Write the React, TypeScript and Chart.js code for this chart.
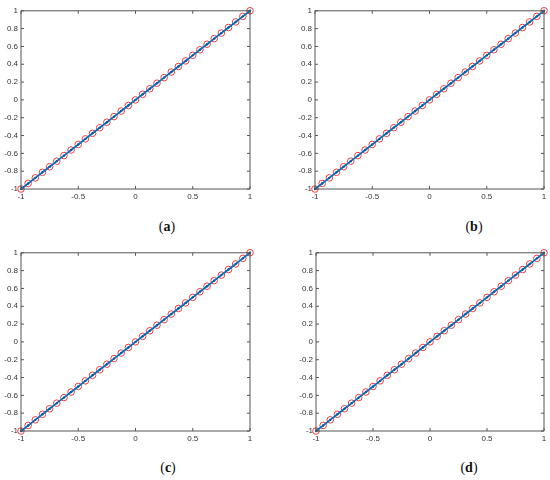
import React, { useEffect, useRef } from "react";
import { Chart, registerables } from "chart.js";

Chart.register(...registerables);

// ---- data ----
const xValues = [
  -1, -0.9375, -0.875, -0.8125, -0.75, -0.6875, -0.625, -0.5625, -0.5, -0.4375, -0.375,
  -0.3125, -0.25, -0.1875, -0.125, -0.0625, 0, 0.0625, 0.125, 0.1875, 0.25, 0.3125, 0.375,
  0.4375, 0.5, 0.5625, 0.625, 0.6875, 0.75, 0.8125, 0.875, 0.9375, 1,
];
const yValues = [
  -1, -0.9375, -0.875, -0.8125, -0.75, -0.6875, -0.625, -0.5625, -0.5, -0.4375, -0.375,
  -0.3125, -0.25, -0.1875, -0.125, -0.0625, 0, 0.0625, 0.125, 0.1875, 0.25, 0.3125, 0.375,
  0.4375, 0.5, 0.5625, 0.625, 0.6875, 0.75, 0.8125, 0.875, 0.9375, 1,
];
const xTicks = [-1, -0.5, 0, 0.5, 1];
const xTickLabels = ["-1", "-0.5", "0", "0.5", "1"];
const yTicks = [-1, -0.8, -0.6, -0.4, -0.2, 0, 0.2, 0.4, 0.6, 0.8, 1];
const yTickLabels = ["-1", "-0.8", "-0.6", "-0.4", "-0.2", "0", "0.2", "0.4", "0.6", "0.8", "1"];
const panelLabels = ["a", "b", "c", "d"];

// ---- layout (positions of plot areas in page px) ----
const panels = [
  { left: 20.5, right: 249, top: 9, bottom: 189, capX: 167, capY: 227 },
  { left: 315, right: 544, top: 9, bottom: 189, capX: 474, capY: 227 },
  { left: 20.5, right: 249, top: 251, bottom: 431, capX: 168, capY: 468 },
  { left: 316, right: 544, top: 251, bottom: 431, capX: 469, capY: 468 },
];

const Y_AXIS_W = 22;
const X_AXIS_H = 16;
const PAD_TOP = 6;
const PAD_RIGHT = 6;
const TICK_FONT = { family: "'Liberation Sans', Arial, sans-serif", size: 8 };
const AXIS_COLOR = "#555555";
const TEXT_COLOR = "#333333";

const boxPlugin = {
  id: "matlabBox",
  afterDraw(chart: any) {
    const { ctx, chartArea } = chart;
    const { left, right, top, bottom } = chartArea;
    const xs = chart.scales.x;
    const ys = chart.scales.y;
    ctx.save();
    ctx.strokeStyle = AXIS_COLOR;
    ctx.lineWidth = 1;
    ctx.beginPath();
    ctx.rect(left, top, right - left, bottom - top);
    ctx.stroke();
    ctx.beginPath();
    const tl = 3;
    xTicks.forEach((v) => {
      const px = xs.getPixelForValue(v);
      ctx.moveTo(px, bottom);
      ctx.lineTo(px, bottom - tl);
      ctx.moveTo(px, top);
      ctx.lineTo(px, top + tl);
    });
    yTicks.forEach((v) => {
      const py = ys.getPixelForValue(v);
      ctx.moveTo(left, py);
      ctx.lineTo(left + tl, py);
      ctx.moveTo(right, py);
      ctx.lineTo(right - tl, py);
    });
    ctx.stroke();
    ctx.restore();
  },
};

function Panel({ p, label }: { p: any; label: string }) {
  const ref = useRef<HTMLCanvasElement | null>(null);
  const cw = Math.round(p.right - p.left + Y_AXIS_W + PAD_RIGHT);
  const ch = Math.round(p.bottom - p.top + PAD_TOP + X_AXIS_H);
  const cl = p.left - Y_AXIS_W;
  const ct = p.top - PAD_TOP;

  useEffect(() => {
    if (!ref.current) return;
    const pts = xValues.map((x, i) => ({ x, y: yValues[i] }));
    const chart = new Chart(ref.current, {
      type: "scatter",
      data: {
        datasets: [
          {
            data: pts,
            showLine: true,
            borderColor: "#0072BD",
            backgroundColor: "#0072BD",
            borderWidth: 1.8,
            pointRadius: 1.2,
            pointBorderWidth: 0,
            pointBackgroundColor: "#0a5a9e",
            clip: false as any,
          },
          {
            data: pts,
            showLine: false,
            pointRadius: 3.3,
            pointBorderWidth: 1,
            pointBorderColor: "#f0393c",
            pointBackgroundColor: "rgba(0,0,0,0)",
            clip: false as any,
          },
        ],
      },
      options: {
        responsive: false,
        animation: false,
        devicePixelRatio: 1,
        layout: { padding: { top: PAD_TOP, right: PAD_RIGHT, left: 0, bottom: 0 } },
        plugins: { legend: { display: false }, tooltip: { enabled: false } },
        scales: {
          x: {
            type: "linear",
            min: -1,
            max: 1,
            afterBuildTicks: (s: any) => {
              s.ticks = xTicks.map((v) => ({ value: v }));
            },
            afterFit: (s: any) => {
              s.height = X_AXIS_H;
            },
            grid: { display: false, drawTicks: false },
            border: { display: false },
            ticks: {
              padding: 3,
              font: TICK_FONT,
              color: TEXT_COLOR,
              maxRotation: 0,
              autoSkip: false,
              callback: (v: any) => {
                const i = xTicks.indexOf(Number(v));
                return i >= 0 ? xTickLabels[i] : "";
              },
            },
          },
          y: {
            type: "linear",
            min: -1,
            max: 1,
            afterBuildTicks: (s: any) => {
              s.ticks = yTicks.map((v) => ({ value: v }));
            },
            afterFit: (s: any) => {
              s.width = Y_AXIS_W;
            },
            grid: { display: false, drawTicks: false },
            border: { display: false },
            ticks: {
              padding: 3,
              font: TICK_FONT,
              color: TEXT_COLOR,
              autoSkip: false,
              callback: (v: any) => {
                const i = yTicks.findIndex((t) => Math.abs(t - Number(v)) < 1e-9);
                return i >= 0 ? yTickLabels[i] : "";
              },
            },
          },
        },
      },
      plugins: [boxPlugin],
    });
    return () => chart.destroy();
  }, []);

  return (
    <>
      <canvas
        ref={ref}
        width={cw}
        height={ch}
        style={{ position: "absolute", left: cl, top: ct, width: cw, height: ch }}
      />
      <div
        style={{
          position: "absolute",
          left: p.capX,
          top: p.capY,
          transform: "translate(-50%, -50%)",
          fontFamily: "'Liberation Serif', 'Times New Roman', serif",
          fontSize: 14,
          color: "#111",
          whiteSpace: "nowrap",
        }}
      >
        (<b>{label}</b>)
      </div>
    </>
  );
}

export default function App() {
  return (
    <div
      style={{
        position: "fixed",
        left: 0,
        top: 0,
        width: 550,
        height: 480,
        background: "#ffffff",
        overflow: "hidden",
      }}
    >
      {panels.map((p, i) => (
        <Panel key={i} p={p} label={panelLabels[i]} />
      ))}
    </div>
  );
}
